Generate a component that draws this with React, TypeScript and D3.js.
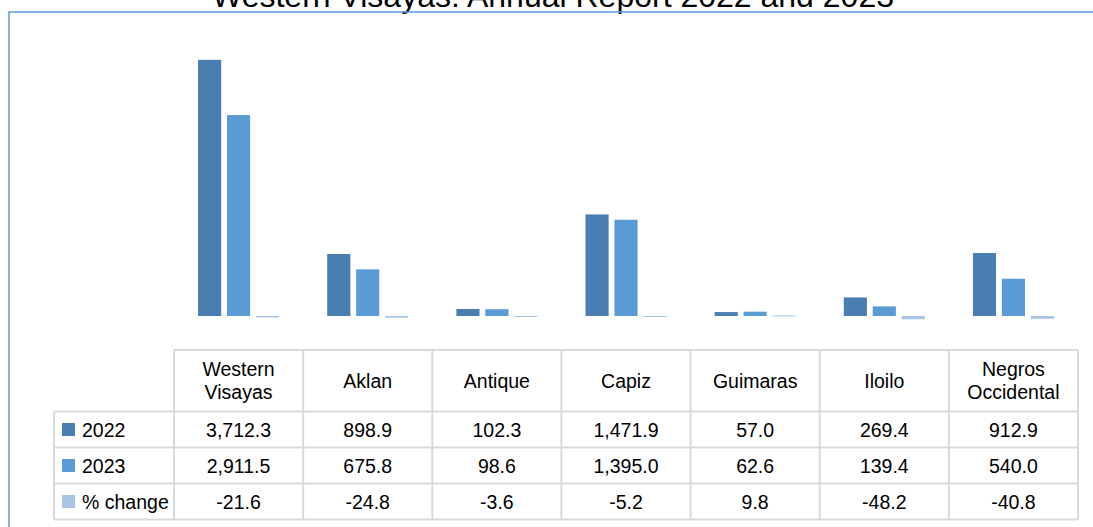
import React from "react";
import * as d3 from "d3";

const title = "Western Visayas: Annual Report 2022 and 2023";
const categories = [
  ["Western", "Visayas"],
  ["Aklan"],
  ["Antique"],
  ["Capiz"],
  ["Guimaras"],
  ["Iloilo"],
  ["Negros", "Occidental"],
];
const seriesNames = ["2022", "2023", "% change"];
const values2022 = [3712.3, 898.9, 102.3, 1471.9, 57.0, 269.4, 912.9];
const values2023 = [2911.5, 675.8, 98.6, 1395.0, 62.6, 139.4, 540.0];
const valuesChange = [-21.6, -24.8, -3.6, -5.2, 9.8, -48.2, -40.8];
const labels2022 = ["3,712.3", "898.9", "102.3", "1,471.9", "57.0", "269.4", "912.9"];
const labels2023 = ["2,911.5", "675.8", "98.6", "1,395.0", "62.6", "139.4", "540.0"];
const labelsChange = ["-21.6", "-24.8", "-3.6", "-5.2", "9.8", "-48.2", "-40.8"];
const colors = ["#4a7eb0", "#5b9bd5", "#a9c5e6"];

const W = 1093;
const H = 527;
const FONT = "'Liberation Sans', Arial, sans-serif";

export default function App() {
  const seriesValues = [values2022, values2023, valuesChange];
  const seriesLabels = [labels2022, labels2023, labelsChange];
  const catKeys = categories.map((c) => c.join(" "));
  const x = d3.scaleBand<string>().domain(catKeys).range([174, 1078]).padding(0);
  const inner = d3
    .scaleBand<string>()
    .domain(seriesNames)
    .range([-40.5, 40.5])
    .paddingInner(0.2)
    .paddingOuter(0);
  const y = d3.scaleLinear().domain([0, 4000]).range([316, 40]);

  const headerTop = 350;
  const headerBottom = 411.5;
  const rowH = 36;
  const rowTops = [headerBottom, headerBottom + rowH, headerBottom + 2 * rowH];
  const tableBottom = headerBottom + 3 * rowH;
  const legendLeft = 54;
  const gridColor = "#d9d9d9";
  const fs = 19.5;

  return (
    <svg
      width={W}
      height={H}
      style={{ position: "absolute", left: 0, top: 0, fontFamily: FONT }}
    >
      <rect x={0} y={0} width={W} height={H} fill="#fff" />
      <text x={553} y={7} textAnchor="middle" fontSize={32} fill="#000">
        {title}
      </text>
      <rect x={9} y={12} width={W + 20} height={H + 20} fill="none" stroke="#5b9bd5" strokeWidth={1.5} />

      {seriesValues.map((vals, si) =>
        vals.map((v, ci) => {
          const x0 = (x(catKeys[ci]) as number) + x.bandwidth() / 2 + (inner(seriesNames[si]) as number);
          const y0 = Math.min(y(v), y(0));
          const h = Math.max(Math.abs(y(v) - y(0)), 1);
          return (
            <rect
              key={`${si}-${ci}`}
              x={x0}
              y={v < 0 ? y(0) : y0}
              width={inner.bandwidth()}
              height={h}
              fill={colors[si]}
            />
          );
        })
      )}

      <g stroke={gridColor} strokeWidth={2} fill="none">
        <line x1={174} x2={1078} y1={headerTop} y2={headerTop} />
        <line x1={legendLeft} x2={1078} y1={headerBottom} y2={headerBottom} />
        {rowTops.slice(1).map((t, i) => (
          <line key={i} x1={legendLeft} x2={1078} y1={t} y2={t} />
        ))}
        <line x1={legendLeft} x2={1078} y1={tableBottom} y2={tableBottom} />
        <line x1={legendLeft} x2={legendLeft} y1={headerBottom} y2={tableBottom} />
        {catKeys.map((k) => (
          <line key={k} x1={x(k) as number} x2={x(k) as number} y1={headerTop} y2={tableBottom} />
        ))}
        <line x1={1078} x2={1078} y1={headerTop} y2={tableBottom} />
      </g>

      {categories.map((lines, ci) => {
        const cx = (x(catKeys[ci]) as number) + x.bandwidth() / 2;
        const cy = (headerTop + headerBottom) / 2;
        const lh = 23;
        return (
          <text key={ci} x={cx} textAnchor="middle" fontSize={fs} fill="#000">
            {lines.map((l, li) => (
              <tspan key={li} x={cx} y={cy + 7 + (li - (lines.length - 1) / 2) * lh}>
                {l}
              </tspan>
            ))}
          </text>
        );
      })}

      {seriesNames.map((name, si) => {
        const cy = rowTops[si] + rowH / 2;
        return (
          <g key={name}>
            <rect x={62} y={cy - 6.5} width={13} height={13} fill={colors[si]} />
            <text x={82} y={cy + 7} fontSize={fs} fill="#000">
              {name}
            </text>
            {seriesLabels[si].map((lab, ci) => (
              <text
                key={ci}
                x={(x(catKeys[ci]) as number) + x.bandwidth() / 2}
                y={cy + 7}
                textAnchor="middle"
                fontSize={fs}
                fill="#000"
              >
                {lab}
              </text>
            ))}
          </g>
        );
      })}
    </svg>
  );
}
